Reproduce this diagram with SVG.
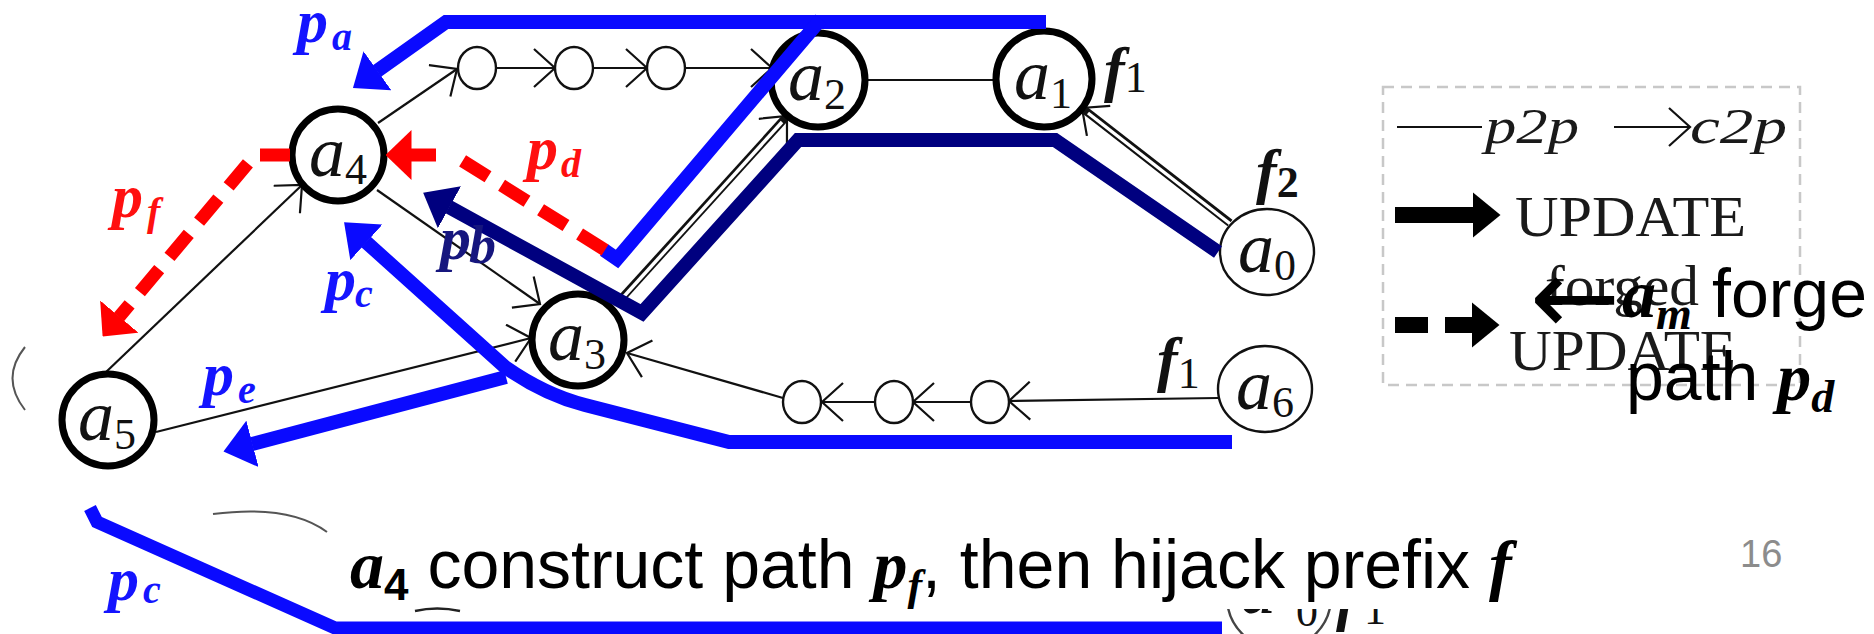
<svg xmlns="http://www.w3.org/2000/svg" width="1874" height="634" viewBox="0 0 1874 634">
<style>
.thin{fill:none;stroke:#111;stroke-width:2.2}
.dbl{fill:none;stroke:#111;stroke-width:8}
.dblw{fill:none;stroke:#fff;stroke-width:3.4}
.node{fill:#fff;stroke:#000;stroke-width:7}
.nodet{fill:#fff;stroke:#111;stroke-width:2.4}
.frag{fill:none;stroke:#555;stroke-width:2}
.nl{font-family:"Liberation Serif",serif;font-style:italic;font-size:72px;fill:#111}
.sb{font-style:normal;font-size:44px}
.lbl{font-family:"Liberation Serif",serif;font-style:italic;font-weight:bold;font-size:62px}
.ls{font-size:40px}
.cb{fill:#1414ff}
.cn{fill:#16167e}
.cr{fill:#ff1010}
.fl{font-family:"Liberation Serif",serif;font-style:italic;font-weight:bold;font-size:62px;fill:#111}
.blue{fill:none;stroke:#0a0aff;stroke-width:14}
.navy{fill:none;stroke:#00007f;stroke-width:14}
.red{fill:none;stroke:#ff0000;stroke-width:13;stroke-dasharray:30 16}
.lg{font-family:"Liberation Serif",serif;font-size:56px;fill:#1a1a1a}
.lgi{font-family:"Liberation Serif",serif;font-style:italic;font-size:50px;fill:#1a1a1a}
.ov{font-family:"Liberation Sans",Arial,sans-serif;font-size:68px;fill:#000}
.ovm{font-family:"Liberation Serif",serif;font-style:italic;font-weight:bold}
</style>
<defs>
<marker id="chev" markerUnits="userSpaceOnUse" viewBox="0 0 24 40" refX="22" refY="20" markerWidth="24" markerHeight="40" orient="auto"><path d="M1,1 L22,20 L1,39" fill="none" stroke="#111" stroke-width="2.2"/></marker>
<marker id="ab" markerUnits="userSpaceOnUse" viewBox="0 0 30 48" refX="0.5" refY="24" markerWidth="30" markerHeight="48" orient="auto"><path d="M0,0 L30,24 L0,48 z" fill="#0a0aff"/></marker>
<marker id="an" markerUnits="userSpaceOnUse" viewBox="0 0 30 48" refX="0.5" refY="24" markerWidth="30" markerHeight="48" orient="auto"><path d="M0,0 L30,24 L0,48 z" fill="#00007f"/></marker>
<marker id="ar" markerUnits="userSpaceOnUse" viewBox="0 0 26 50" refX="0.5" refY="25" markerWidth="26" markerHeight="50" orient="auto"><path d="M0,0 L26,25 L0,50 z" fill="#ff0000"/></marker>
<marker id="ak" markerUnits="userSpaceOnUse" viewBox="0 0 28 46" refX="0.5" refY="23" markerWidth="28" markerHeight="46" orient="auto"><path d="M0,0 L28,23 L0,46 z" fill="#000"/></marker>
<clipPath id="cbr"><rect x="1215" y="609" width="200" height="25"/></clipPath>
</defs>

<g id="links">
<path class="thin" d="M378,123 L457,69" marker-end="url(#chev)"/>
<path class="thin" d="M496,68 L555,68" marker-end="url(#chev)"/>
<path class="thin" d="M593,68 L647,68" marker-end="url(#chev)"/>
<path class="thin" d="M685,68 L772,68" marker-end="url(#chev)"/>
<path class="thin" d="M865,80 L996,80"/>
<path class="dbl" d="M620,300 L787,116" marker-end="url(#chev)"/>
<path class="dblw" d="M618,303 L782,122"/>
<path class="dbl" d="M1230,223 L1082,108" marker-end="url(#chev)"/>
<path class="dblw" d="M1233,226 L1088,113"/>
<path class="thin" d="M105,373 L302,185" marker-end="url(#chev)"/>
<path class="thin" d="M377,190 L540,304" marker-end="url(#chev)"/>
<path class="thin" d="M156,432 L531,338" marker-end="url(#chev)"/>
<path class="thin" d="M1218,398 L1009,401" marker-end="url(#chev)"/>
<path class="thin" d="M971,402 L913,402" marker-end="url(#chev)"/>
<path class="thin" d="M875,402 L822,402" marker-end="url(#chev)"/>
<path class="thin" d="M783,398 L627,353" marker-end="url(#chev)"/>
</g>

<g id="relay-top">
<ellipse class="nodet" cx="477" cy="68" rx="19" ry="21"/>
<ellipse class="nodet" cx="574" cy="68" rx="19" ry="21"/>
<ellipse class="nodet" cx="666" cy="68" rx="19" ry="21"/>
</g>
<g id="relay-bottom">
<ellipse class="nodet" cx="802" cy="402" rx="19" ry="21"/>
<ellipse class="nodet" cx="894" cy="402" rx="19" ry="21"/>
<ellipse class="nodet" cx="990" cy="402" rx="19" ry="21"/>
</g>

<g id="a4"><circle class="node" cx="338" cy="155" r="46"/><text class="nl" x="309" y="176">a<tspan class="sb" dy="8">4</tspan></text></g>
<g id="a2"><circle class="node" cx="818" cy="80" r="47"/><text class="nl" x="788" y="100">a<tspan class="sb" dy="9">2</tspan></text></g>
<g id="a1"><circle class="node" cx="1044" cy="79" r="48"/><text class="nl" x="1014" y="99">a<tspan class="sb" dy="9">1</tspan></text></g>
<g id="a3"><circle class="node" cx="578" cy="340" r="46"/><text class="nl" x="548" y="360">a<tspan class="sb" dy="9">3</tspan></text></g>
<g id="a5"><circle class="node" cx="108" cy="420" r="46"/><text class="nl" x="78" y="440">a<tspan class="sb" dy="9">5</tspan></text></g>
<g id="a0"><ellipse class="nodet" cx="1267" cy="252" rx="47" ry="43"/><text class="nl" x="1238" y="272" font-size="66">a<tspan class="sb" dy="8" font-size="42">0</tspan></text></g>
<g id="a6"><ellipse class="nodet" cx="1265" cy="389" rx="47" ry="43"/><text class="nl" x="1236" y="409" font-size="66">a<tspan class="sb" dy="8" font-size="42">6</tspan></text></g>

<g id="prefix-labels">
<text class="fl" x="1104" y="90">f<tspan class="sb" font-weight="normal" font-size="40" dy="2">1</tspan></text>
<text class="fl" x="1256" y="192">f<tspan class="sb" font-size="40" dy="5">2</tspan></text>
<text class="fl" x="1157" y="380">f<tspan class="sb" font-weight="normal" font-size="40" dy="8">1</tspan></text>
</g>

<g id="updates">
<path class="blue" d="M1046,22 L446,22 L377,71" marker-end="url(#ab)"/>
<path class="blue" d="M821,19 L617,259 L604,250"/>
<path class="navy" d="M1218,252 L1055,140 L798,140 L642,313 L449,207" marker-end="url(#an)"/>
<path class="blue" d="M1232,442 L729,442 L585,405 Q545,395 505,367 L366,242" marker-end="url(#ab)"/>
<path class="blue" d="M506,377 L252,444" marker-end="url(#ab)"/>
<path class="red" d="M605,250 L450,153"/>
<path fill="none" stroke="#ff0000" stroke-width="13" d="M436,155 L411,155" marker-end="url(#ar)"/>
<path class="red" d="M290,155 L255,155 L119,317" marker-end="url(#ar)"/>
</g>

<g id="path-labels">
<text class="lbl cb" x="297" y="42">p<tspan class="ls" x="332" y="50">a</tspan></text>
<text class="lbl cr" x="527" y="169">p<tspan class="ls" font-size="44" x="561" y="177">d</tspan></text>
<text class="lbl cr" x="112" y="217">p<tspan class="ls" x="147" y="225">f</tspan></text>
<text class="lbl cn" x="440" y="259" font-size="64">p<tspan font-size="54" x="469" y="263">b</tspan></text>
<text class="lbl cb" x="325" y="300">p<tspan class="ls" x="355" y="307">c</tspan></text>
<text class="lbl cb" x="203" y="395">p<tspan class="ls" x="238" y="403">e</tspan></text>
<text class="lbl cb" x="108" y="600">p<tspan class="ls" x="143" y="603">c</tspan></text>
</g>

<g id="legend">
<rect x="1383" y="87" width="417" height="298" fill="none" stroke="#c8c8c8" stroke-width="2.5" stroke-dasharray="11 7"/>
<path class="thin" d="M1397,127 L1482,127" stroke-width="3"/>
<text class="lgi" x="1485" y="143" textLength="94" lengthAdjust="spacingAndGlyphs">p2p</text>
<path class="thin" d="M1614,127 L1690,127" stroke-width="3" marker-end="url(#chev)"/>
<text class="lgi" x="1690" y="143" textLength="97" lengthAdjust="spacingAndGlyphs">c2p</text>
<path fill="none" stroke="#000" stroke-width="16" d="M1395,215 L1473,215" marker-end="url(#ak)"/>
<text class="lg" x="1515" y="236" textLength="231" lengthAdjust="spacingAndGlyphs">UPDATE</text>
<text class="lg" x="1545" y="305" textLength="154" lengthAdjust="spacingAndGlyphs">forged</text>
<path fill="none" stroke="#000" stroke-width="16" stroke-dasharray="33 17" d="M1395,325 L1472,325" marker-end="url(#ak)"/>
<text class="lg" x="1509" y="370" textLength="227" lengthAdjust="spacingAndGlyphs">UPDATE</text>
</g>

<g id="overlay-text">
<text x="1530" y="334" font-family="DejaVu Sans,sans-serif" font-size="108" fill="#000">←</text>
<text class="ov" x="1622" y="317"><tspan class="ovm">a</tspan><tspan class="ovm" font-size="46" dy="12">m</tspan><tspan x="1712" y="317">forge</tspan></text>
<text class="ov" x="1626" y="400">path <tspan class="ovm">p</tspan><tspan class="ovm" font-size="46" dy="12">d</tspan></text>
<text class="ov" x="350" y="588"><tspan class="ovm">a</tspan><tspan font-weight="bold" font-size="44" dy="12">4</tspan><tspan dy="-12"> construct path </tspan><tspan class="ovm">p</tspan><tspan class="ovm" font-size="44" dy="12">f</tspan><tspan dy="-12">, then hijack prefix </tspan><tspan class="ovm">f</tspan></text>
<text x="1740" y="567" font-family="Liberation Sans,Arial,sans-serif" font-size="38" fill="#8c8c8c">16</text>
</g>

<g id="fragments">
<path class="frag" d="M25,347 Q0,378 25,410"/>
<path class="frag" d="M213,514 C260,508 300,512 327,532"/>
<path fill="none" stroke="#222" stroke-width="2.5" d="M415,611 Q437,606 460,611"/>
<path fill="none" stroke="#0a0aff" stroke-width="13" d="M90,508 L97,522 L335,628 L1222,628"/>
<g clip-path="url(#cbr)">
<circle cx="1279" cy="597" r="52" fill="none" stroke="#444" stroke-width="2.4"/>
<text class="nl" x="1240" y="613" font-size="62">a<tspan class="sb" x="1296" y="626" font-size="40">0</tspan></text>
<text class="fl" x="1336" y="619" font-size="58">f<tspan class="sb" font-weight="normal" font-size="40" x="1364" y="624">1</tspan></text>
</g>
</g>
</svg>
